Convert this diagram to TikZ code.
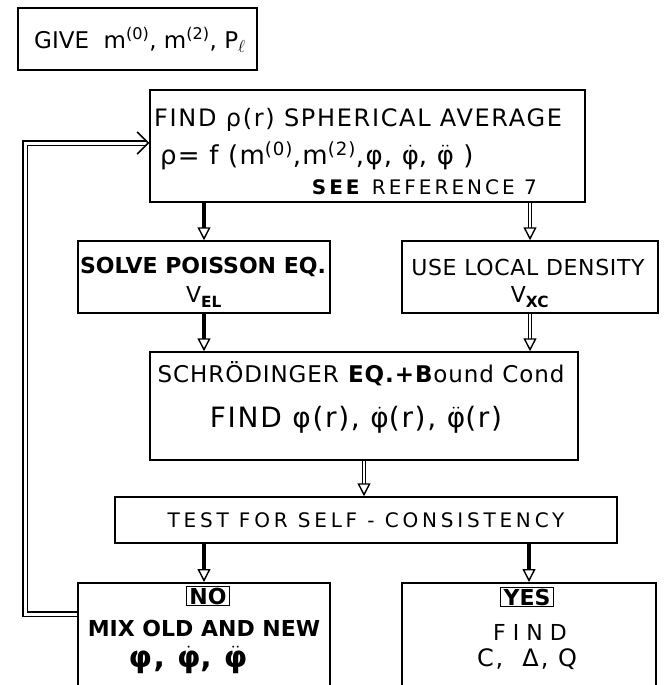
\documentclass[tikz,border=0pt]{standalone}
\usepackage{fontspec}
\usepackage{amsmath}
\setmainfont{DejaVu Sans}
\usetikzlibrary{arrows.meta}
\newcommand\phid{\ensuremath{\dot{\text{φ}}}}
\newcommand\phidd{\ensuremath{\ddot{\text{φ}}}}
\newcommand\spaced[1]{\addfontfeatures{LetterSpace=#1}}
\tikzset{
  box/.style={draw,line width=1.5pt,inner sep=0pt},
  txt/.style={inner sep=0pt,font=\fontsize{22}{26}\selectfont},
  tag/.style={draw,line width=1.4pt,inner xsep=3pt,inner ysep=1.5pt,text height=16.5pt,text depth=0pt,font=\fontsize{22}{26}\selectfont\bfseries},
  boldflow/.style={line width=3.5pt,-{Triangle[open,length=13pt,width=13pt,line width=1.4pt]}},
  dblflow/.style={double,double distance=2pt,line width=1.2pt,-{Triangle[open,length=13pt,width=13pt,line width=1.4pt]}},
  loopflow/.style={double,double distance=3pt,line width=1.3pt,-{Straight Barb[length=11pt,width=22pt,line width=1.5pt]}},
}
\begin{document}
\begin{tikzpicture}[x=1pt,y=-1pt]
\useasboundingbox (0,0) rectangle (664,685);
% input
\node[box,minimum width=239pt,minimum height=62pt] (give) at (137.5,39) {};
\node[txt,font=\fontsize{23}{27}\selectfont] (givetxt) at (140,40) {GIVE\ \ m\textsuperscript{(0)}, m\textsuperscript{(2)}, P$_{\ell}$};
% density
\node[box,minimum width=435pt,minimum height=112pt] (findrho) at (367.5,146) {};
\node[txt,anchor=west,font=\fontsize{24}{28}\selectfont\spaced{7}] (rhotxt) at (154,120) {FIND ρ(r) SPHERICAL AVERAGE};
\node[txt,anchor=west,font=\fontsize{26}{30}\selectfont\spaced{5}] (ftxt) at (160,156) {ρ= f (m\textsuperscript{(0)},m\textsuperscript{(2)},φ, \phid, \phidd\ )};
\node[txt,anchor=east,font=\fontsize{20}{24}\selectfont\spaced{15}] (reftxt) at (537,187) {\textbf{SEE} REFERENCE 7};
% potentials
\node[box,minimum width=252pt,minimum height=72pt] (poisson) at (204,277) {};
\node[txt] (poistxt) at (203,267) {\textbf{SOLVE POISSON EQ.}};
\node[txt] (veltxt) at (204,297) {V\textsubscript{\bfseries EL}};
\node[box,minimum width=256pt,minimum height=72pt] (localdens) at (530,277) {};
\node[txt,font=\fontsize{22}{26}\selectfont\spaced{3}] (ldtxt) at (528,267) {USE LOCAL DENSITY};
\node[txt] (vxctxt) at (530,297) {V\textsubscript{\bfseries XC}};
% radial equation
\node[box,minimum width=428pt,minimum height=108pt] (schrod) at (364,406) {};
\node[txt,font=\fontsize{23}{27}\selectfont\spaced{4}] (schtxt) at (361,374) {SCHRÖDINGER \textbf{EQ.+B}ound Cond};
\node[txt,font=\fontsize{28}{32}\selectfont\spaced{6}] (phitxt) at (356,420) {FIND φ(r), \phid(r), \phidd(r)};
% test
\node[box,minimum width=502pt,minimum height=46pt] (selfcons) at (366,520) {};
\node[txt,font=\fontsize{20}{24}\selectfont\spaced{19}] (testtxt) at (366,520) {TEST FOR SELF - CONSISTENCY};
% outcomes (cut off below)
\node[box,minimum width=252pt,minimum height=130pt,anchor=north] (mixno) at (204,582) {};
\node[tag] (notag) at (208,596) {NO};
\node[txt] (mixtxt) at (204,628) {\textbf{MIX OLD AND NEW}};
\node[txt,font=\fontsize{30}{34}\selectfont\bfseries\spaced{5}] (mixphi) at (188,660) {φ, \phid, \phidd};
\node[box,minimum width=254pt,minimum height=130pt,anchor=north] (findyes) at (529,582) {};
\node[tag] (yestag) at (527,597) {YES};
\node[txt] (yestxt) at (530,632) {F I N D};
\node[txt,font=\fontsize{24}{28}\selectfont\spaced{8}] (cdq) at (527,659) {C,\ \ Δ, Q};
% connectors
\draw[boldflow] (findrho.south -| poisson.north) -- (poisson.north);
\draw[dblflow] (findrho.south -| localdens.north) -- (localdens.north);
\draw[boldflow] (poisson.south) -- (schrod.north -| poisson.south);
\draw[dblflow] (localdens.south) -- (schrod.north -| localdens.south);
\draw[dblflow] (schrod.south) -- (selfcons.north -| schrod.south);
\draw[boldflow] (selfcons.south -| mixno.north) -- (mixno.north);
\draw[boldflow] (selfcons.south -| findyes.north) -- (findyes.north);
% feedback loop
\coordinate (loopbot) at (25,614);
\coordinate (looptop) at (25,143);
\draw[loopflow] (mixno.west |- loopbot) -- (loopbot) -- (looptop) -- (findrho.west |- looptop);
\end{tikzpicture}
\end{document}
